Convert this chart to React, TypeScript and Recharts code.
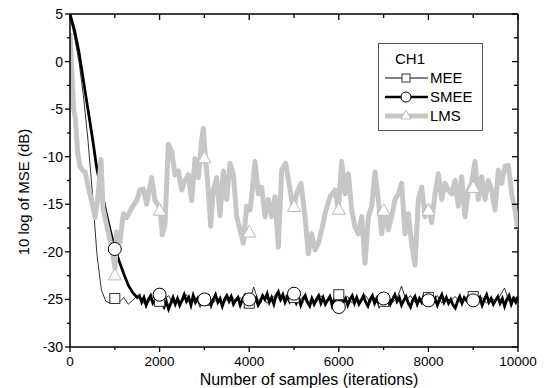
import React from 'react';
import { ComposedChart, Line, Scatter, XAxis, YAxis, ReferenceLine } from 'recharts';

// ---- data ----
const meeConverge: [number, number][] = [
  [0, 4.8], [100, 2.6], [200, 0], [300, -3.6], [400, -8.2], [500, -13.8],
  [600, -20.2], [700, -24], [800, -25.2], [900, -25.4], [1000, -25],
];
// MEE steady state, every 100 samples from 1100 to 10000
const meeSteady = [
  -25.3, -24.8, -25.5, -25.1, -24.6, -25.2, -25.6, -25.0, -24.7, -25.3,
  -25.0, -24.6, -25.4, -24.9, -25.3, -24.5, -25.1, -24.8, -25.4, -25.1,
  -24.7, -25.3, -24.9, -25.5, -25.0, -24.6, -25.2, -24.8, -25.4, -25.3,
  -23.7, -25.1, -24.7, -25.4, -24.9, -24.5, -25.2, -24.6, -25.0, -24.8,
  -25.2, -24.7, -25.4, -24.9, -25.3, -24.6, -25.1, -24.8, -25.3, -24.5,
  -25.0, -24.7, -25.4, -24.9, -25.2, -24.6, -25.3, -24.8, -25.1, -25.2,
  -24.7, -25.3, -24.9, -23.6, -25.1, -24.6, -25.3, -24.9, -25.2, -24.8,
  -25.2, -24.6, -25.4, -24.9, -25.1, -24.7, -25.3, -24.8, -25.0, -24.7,
  -25.2, -24.8, -25.4, -24.9, -25.1, -24.6, -23.8, -25.2, -24.7, -25.0,
];

const smeeConverge: [number, number][] = [
  [0, 5], [100, 3.3], [200, 1], [300, -2], [400, -5], [500, -8], [600, -11.3],
  [700, -13.5], [800, -15.8], [900, -17.8], [1000, -19.6], [1100, -21],
  [1200, -22.3], [1300, -23.5], [1400, -24.3], [1500, -24.8],
];
// SMEE steady state, every 50 samples from 1550 to 10000
const smeeSteady = [
  -24.6, -25.3, -24.8, -25.6, -25.0, -24.6, -25.4, -25.1, -24.7, -24.9,
  -25.3, -25.8, -25.2, -26.0, -25.4, -24.8, -25.5, -24.9, -25.6, -25.1,
  -24.5, -25.2, -24.8, -25.6, -24.6, -25.3, -24.9, -25.5, -24.7, -25.1,
  -25.4, -24.8, -25.6, -25.0, -24.5, -25.3, -24.9, -25.7, -25.0, -24.6,
  -25.2, -24.7, -25.5, -25.1, -24.8, -25.6, -25.0, -24.6, -25.4, -25.1,
  -24.7, -25.3, -24.9, -25.6, -25.2, -24.6, -25.0, -24.4, -25.3, -24.8,
  -25.5, -24.6, -24.2, -25.0, -24.5, -25.3, -24.7, -25.2, -24.5, -24.9,
  -25.4, -24.8, -25.6, -25.0, -24.6, -25.3, -25.7, -24.9, -25.5, -25.0,
  -24.6, -25.4, -24.8, -25.5, -25.1, -24.7, -25.6, -25.0, -25.5, -25.2,
  -24.7, -25.3, -24.9, -25.6, -25.0, -24.6, -25.4, -24.8, -25.5, -25.1,
  -24.6, -25.3, -25.7, -25.0, -24.6, -25.4, -24.9, -25.6, -25.0, -24.8,
  -25.3, -24.7, -25.5, -25.0, -24.5, -25.2, -24.8, -25.6, -25.1, -24.7,
  -25.4, -25.8, -25.1, -24.7, -25.5, -24.9, -25.3, -24.6, -25.2, -25.0,
  -24.6, -25.3, -24.9, -25.6, -25.0, -24.5, -25.3, -24.8, -25.4, -25.0,
  -25.6, -25.9, -25.2, -24.7, -25.4, -24.8, -25.1, -24.6, -25.3, -25.0,
  -24.6, -25.2, -24.8, -25.6, -25.0, -24.5, -25.3, -24.9, -25.5, -25.1,
  -24.7, -25.4, -24.9, -25.7, -25.0, -24.6, -25.5, -24.9, -25.3, -24.7,
];

const lmsTrace: [number, number][] = [
  [0, 3], [40, -1], [80, -5], [120, -6], [170, -9.5], [220, -11], [290, -11.5],
  [340, -11.6], [400, -13], [446, -13.9], [500, -15], [558, -16.4], [625, -14.2],
  [692, -10.3], [737, -15.4], [818, -17.2], [930, -19.6], [1004, -21.7], [1042, -17.9],
  [1116, -19], [1190, -16], [1265, -16.4], [1376, -15.4], [1488, -14.6], [1562, -13.5],
  [1637, -13.4], [1711, -15], [1823, -12.2], [1897, -14.6], [2009, -15.4], [2060, -18.2],
  [2120, -17.1], [2195, -8.7], [2269, -9.4], [2344, -11.9], [2418, -11.5], [2493, -13.5],
  [2567, -12.5], [2641, -11.9], [2716, -14.6], [2790, -10.2], [2865, -12.2], [2939, -8.2],
  [2976, -7], [3030, -10.5], [3086, -13.5], [3140, -17.3], [3199, -13.5], [3274, -12.2],
  [3348, -16.2], [3423, -11.5], [3497, -14.5], [3571, -10.7], [3646, -11.8], [3720, -16.3],
  [3795, -17.7], [3869, -19.1], [3943, -15.2], [4018, -15.6], [4070, -13.5], [4129, -10.5],
  [4204, -13.9], [4278, -13.2], [4353, -16.3], [4427, -14.5], [4501, -16.3], [4576, -14.2],
  [4650, -19.5], [4725, -11.4], [4814, -10.7], [4888, -12.8], [4985, -15.6], [5060, -13.9],
  [5156, -12.8], [5246, -16.3], [5320, -20.2], [5394, -18.1], [5469, -19.8], [5543, -19.1],
  [5618, -17.7], [5692, -16], [5804, -14.2], [5915, -13.5], [5990, -15.6], [6064, -10.5],
  [6139, -13.9], [6213, -11.8], [6288, -15.6], [6362, -17.4], [6436, -18.1], [6511, -16.3],
  [6585, -21.2], [6660, -16.3], [6734, -15.2], [6808, -11.6], [6882, -14.5], [6957, -18.1],
  [7031, -15.6], [7106, -17.7], [7180, -16.3], [7254, -14.5], [7329, -13.9], [7403, -12.8],
  [7478, -18.1], [7552, -16], [7626, -19.1], [7701, -21.4], [7775, -14.5], [7850, -13.2],
  [7924, -16.3], [7999, -15.2], [8073, -16.9], [8147, -13.9], [8222, -11.8], [8296, -14.5],
  [8371, -12.8], [8445, -13.5], [8519, -13.9], [8594, -12.5], [8668, -15.2], [8743, -12.1],
  [8817, -16.3], [8891, -13.5], [8966, -12.8], [9040, -10.5], [9115, -14.5], [9189, -12.1],
  [9263, -14.5], [9338, -12.5], [9412, -13.5], [9487, -15.6], [9561, -11.4], [9635, -12.8],
  [9710, -11], [9784, -10.9], [9859, -13.9], [9933, -15.6], [10000, -17.7],
];

// markers every 1000 samples
const markerSamples = [1000, 2000, 3000, 4000, 5000, 6000, 7000, 8000, 9000];
const meeMarks = [-24.9, -25.2, -25.1, -25.4, -24.8, -24.5, -25.2, -24.8, -24.7];
const smeeMarks = [-19.7, -24.5, -25.0, -25.0, -24.4, -25.8, -24.9, -25.1, -25.1];
const lmsMarks = [-22.4, -15.6, -10.1, -17.9, -15.2, -15.5, -15.6, -15.6, -13.2];

const xTicks = [0, 1000, 2000, 3000, 4000, 5000, 6000, 7000, 8000, 9000, 10000];
const yTicks = [-30, -27.5, -25, -22.5, -20, -17.5, -15, -12.5, -10, -7.5, -5, -2.5, 0, 2.5, 5];

// ---- build series ----
const toPts = (arr: [number, number][]) => arr.map(([x, y]) => ({ x, y }));
const meeData = [...toPts(meeConverge), ...meeSteady.map((y, i) => ({ x: 1100 + i * 100, y }))];
const smeeData = [...toPts(smeeConverge), ...smeeSteady.map((y, i) => ({ x: 1550 + i * 50, y }))];
const lmsData = toPts(lmsTrace);
const marks = (vals: number[]) => markerSamples.map((x, i) => ({ x, y: vals[i] }));

const FONT = '"Liberation Sans", Arial, sans-serif';
const LMS_GRAY = '#c6c6c6';
const PLOT = { left: 70, right: 518, top: 14, bottom: 347 };

const Square = ({ cx, cy, s = 5 }: any) => (
  <rect x={cx - s} y={cy - s} width={s * 2} height={s * 2} fill="#fff" stroke="#333" strokeWidth={1} />
);
const Circ = ({ cx, cy, r = 6.5 }: any) => (
  <circle cx={cx} cy={cy} r={r} fill="#fff" stroke="#000" strokeWidth={1} />
);
const Tri = ({ cx, cy, s = 6.5 }: any) => (
  <polygon
    points={`${cx},${cy - s} ${cx - s},${cy + s * 0.8} ${cx + s},${cy + s * 0.8}`}
    fill="#fff"
    stroke="#bbb"
    strokeWidth={1}
  />
);

const XTick = ({ x, payload }: any) => {
  const major = payload.value % 2000 === 0;
  const len = major ? 5 : 3;
  return (
    <g>
      <line x1={x} x2={x} y1={PLOT.bottom} y2={PLOT.bottom + len} stroke="#000" strokeWidth={1.3} />
      <line x1={x} x2={x} y1={PLOT.top} y2={PLOT.top + len + 1} stroke="#000" strokeWidth={1.3} />
      {major && (
        <text x={x} y={366} textAnchor="middle" fontSize={13.5} fontFamily={FONT} fill="#000">
          {payload.value}
        </text>
      )}
    </g>
  );
};

const YTick = ({ y, payload }: any) => {
  const major = payload.value % 5 === 0;
  const len = major ? 5 : 3;
  return (
    <g>
      <line x1={PLOT.left - len} x2={PLOT.left} y1={y} y2={y} stroke="#000" strokeWidth={1.3} />
      <line x1={PLOT.right - len - 1} x2={PLOT.right} y1={y} y2={y} stroke="#000" strokeWidth={1.3} />
      {major && (
        <text x={63} y={y + 5} textAnchor="end" fontSize={14} fontFamily={FONT} fill="#000">
          {payload.value}
        </text>
      )}
    </g>
  );
};

const LegendBox = () => (
  <svg width={106} height={89} style={{ display: 'block' }}>
    <rect x={0.5} y={0.5} width={104} height={87} fill="#fff" stroke="#555" strokeWidth={1} />
    <text x={17} y={21} fontSize={15} fontFamily={FONT}>CH1</text>
    <line x1={7} x2={50} y1={35} y2={35} stroke="#000" strokeWidth={1} />
    <Square cx={28} cy={35} s={4} />
    <text x={52} y={40} fontSize={15} fontFamily={FONT}>MEE</text>
    <line x1={7} x2={50} y1={54} y2={54} stroke="#000" strokeWidth={2.5} />
    <Circ cx={28} cy={54} r={5} />
    <text x={52} y={59} fontSize={15} fontFamily={FONT}>SMEE</text>
    <line x1={7} x2={50} y1={73} y2={73} stroke={LMS_GRAY} strokeWidth={5} />
    <Tri cx={28} cy={72} s={5} />
    <text x={52} y={78} fontSize={15} fontFamily={FONT}>LMS</text>
  </svg>
);

export default function App() {
  return (
    <div style={{ position: 'absolute', left: 0, top: 0, width: 547, height: 388, background: '#fff' }}>
      <ComposedChart width={547} height={388} margin={{ top: 14, right: 29, bottom: 0, left: 0 }}>
        <XAxis
          type="number"
          dataKey="x"
          domain={[0, 10000]}
          ticks={xTicks}
          interval={0}
          height={41}
          allowDataOverflow
          tickLine={false}
          axisLine={{ stroke: '#000', strokeWidth: 1.5 }}
          tick={<XTick />}
          label={{
            content: () => (
              <text x={309} y={385} textAnchor="middle" fontSize={16} fontFamily={FONT} fill="#000">
                Number of samples (iterations)
              </text>
            ),
          }}
        />
        <YAxis
          type="number"
          dataKey="y"
          domain={[-30, 5]}
          ticks={yTicks}
          interval={0}
          width={70}
          allowDataOverflow
          tickLine={false}
          axisLine={{ stroke: '#000', strokeWidth: 1.5 }}
          tick={<YTick />}
          label={{
            content: () => (
              <text
                x={25}
                y={192}
                transform="rotate(-90 25 192)"
                textAnchor="middle"
                dominantBaseline="middle"
                fontSize={15}
                fontFamily={FONT}
                fill="#000"
              >
                10 log of MSE (dB)
              </text>
            ),
          }}
        />
        <ReferenceLine y={5} stroke="#000" strokeWidth={1.5} />
        <ReferenceLine x={10000} stroke="#000" strokeWidth={1.5} />
        <Line data={meeData} dataKey="y" type="linear" stroke="#000" strokeWidth={0.8} dot={false} activeDot={false} isAnimationActive={false} />
        <Line data={smeeData} dataKey="y" type="linear" stroke="#000" strokeWidth={2.8} dot={false} activeDot={false} isAnimationActive={false} />
        <Line data={lmsData} dataKey="y" type="linear" stroke={LMS_GRAY} strokeWidth={5} strokeLinejoin="round" dot={false} activeDot={false} isAnimationActive={false} />
        <Scatter data={marks(meeMarks)} dataKey="y" shape={<Square />} isAnimationActive={false} />
        <Scatter data={marks(smeeMarks)} dataKey="y" shape={<Circ />} isAnimationActive={false} />
        <Scatter data={marks(lmsMarks)} dataKey="y" shape={<Tri />} isAnimationActive={false} />
      </ComposedChart>
      <div style={{ position: 'absolute', left: 378, top: 43 }}>
        <LegendBox />
      </div>
    </div>
  );
}
